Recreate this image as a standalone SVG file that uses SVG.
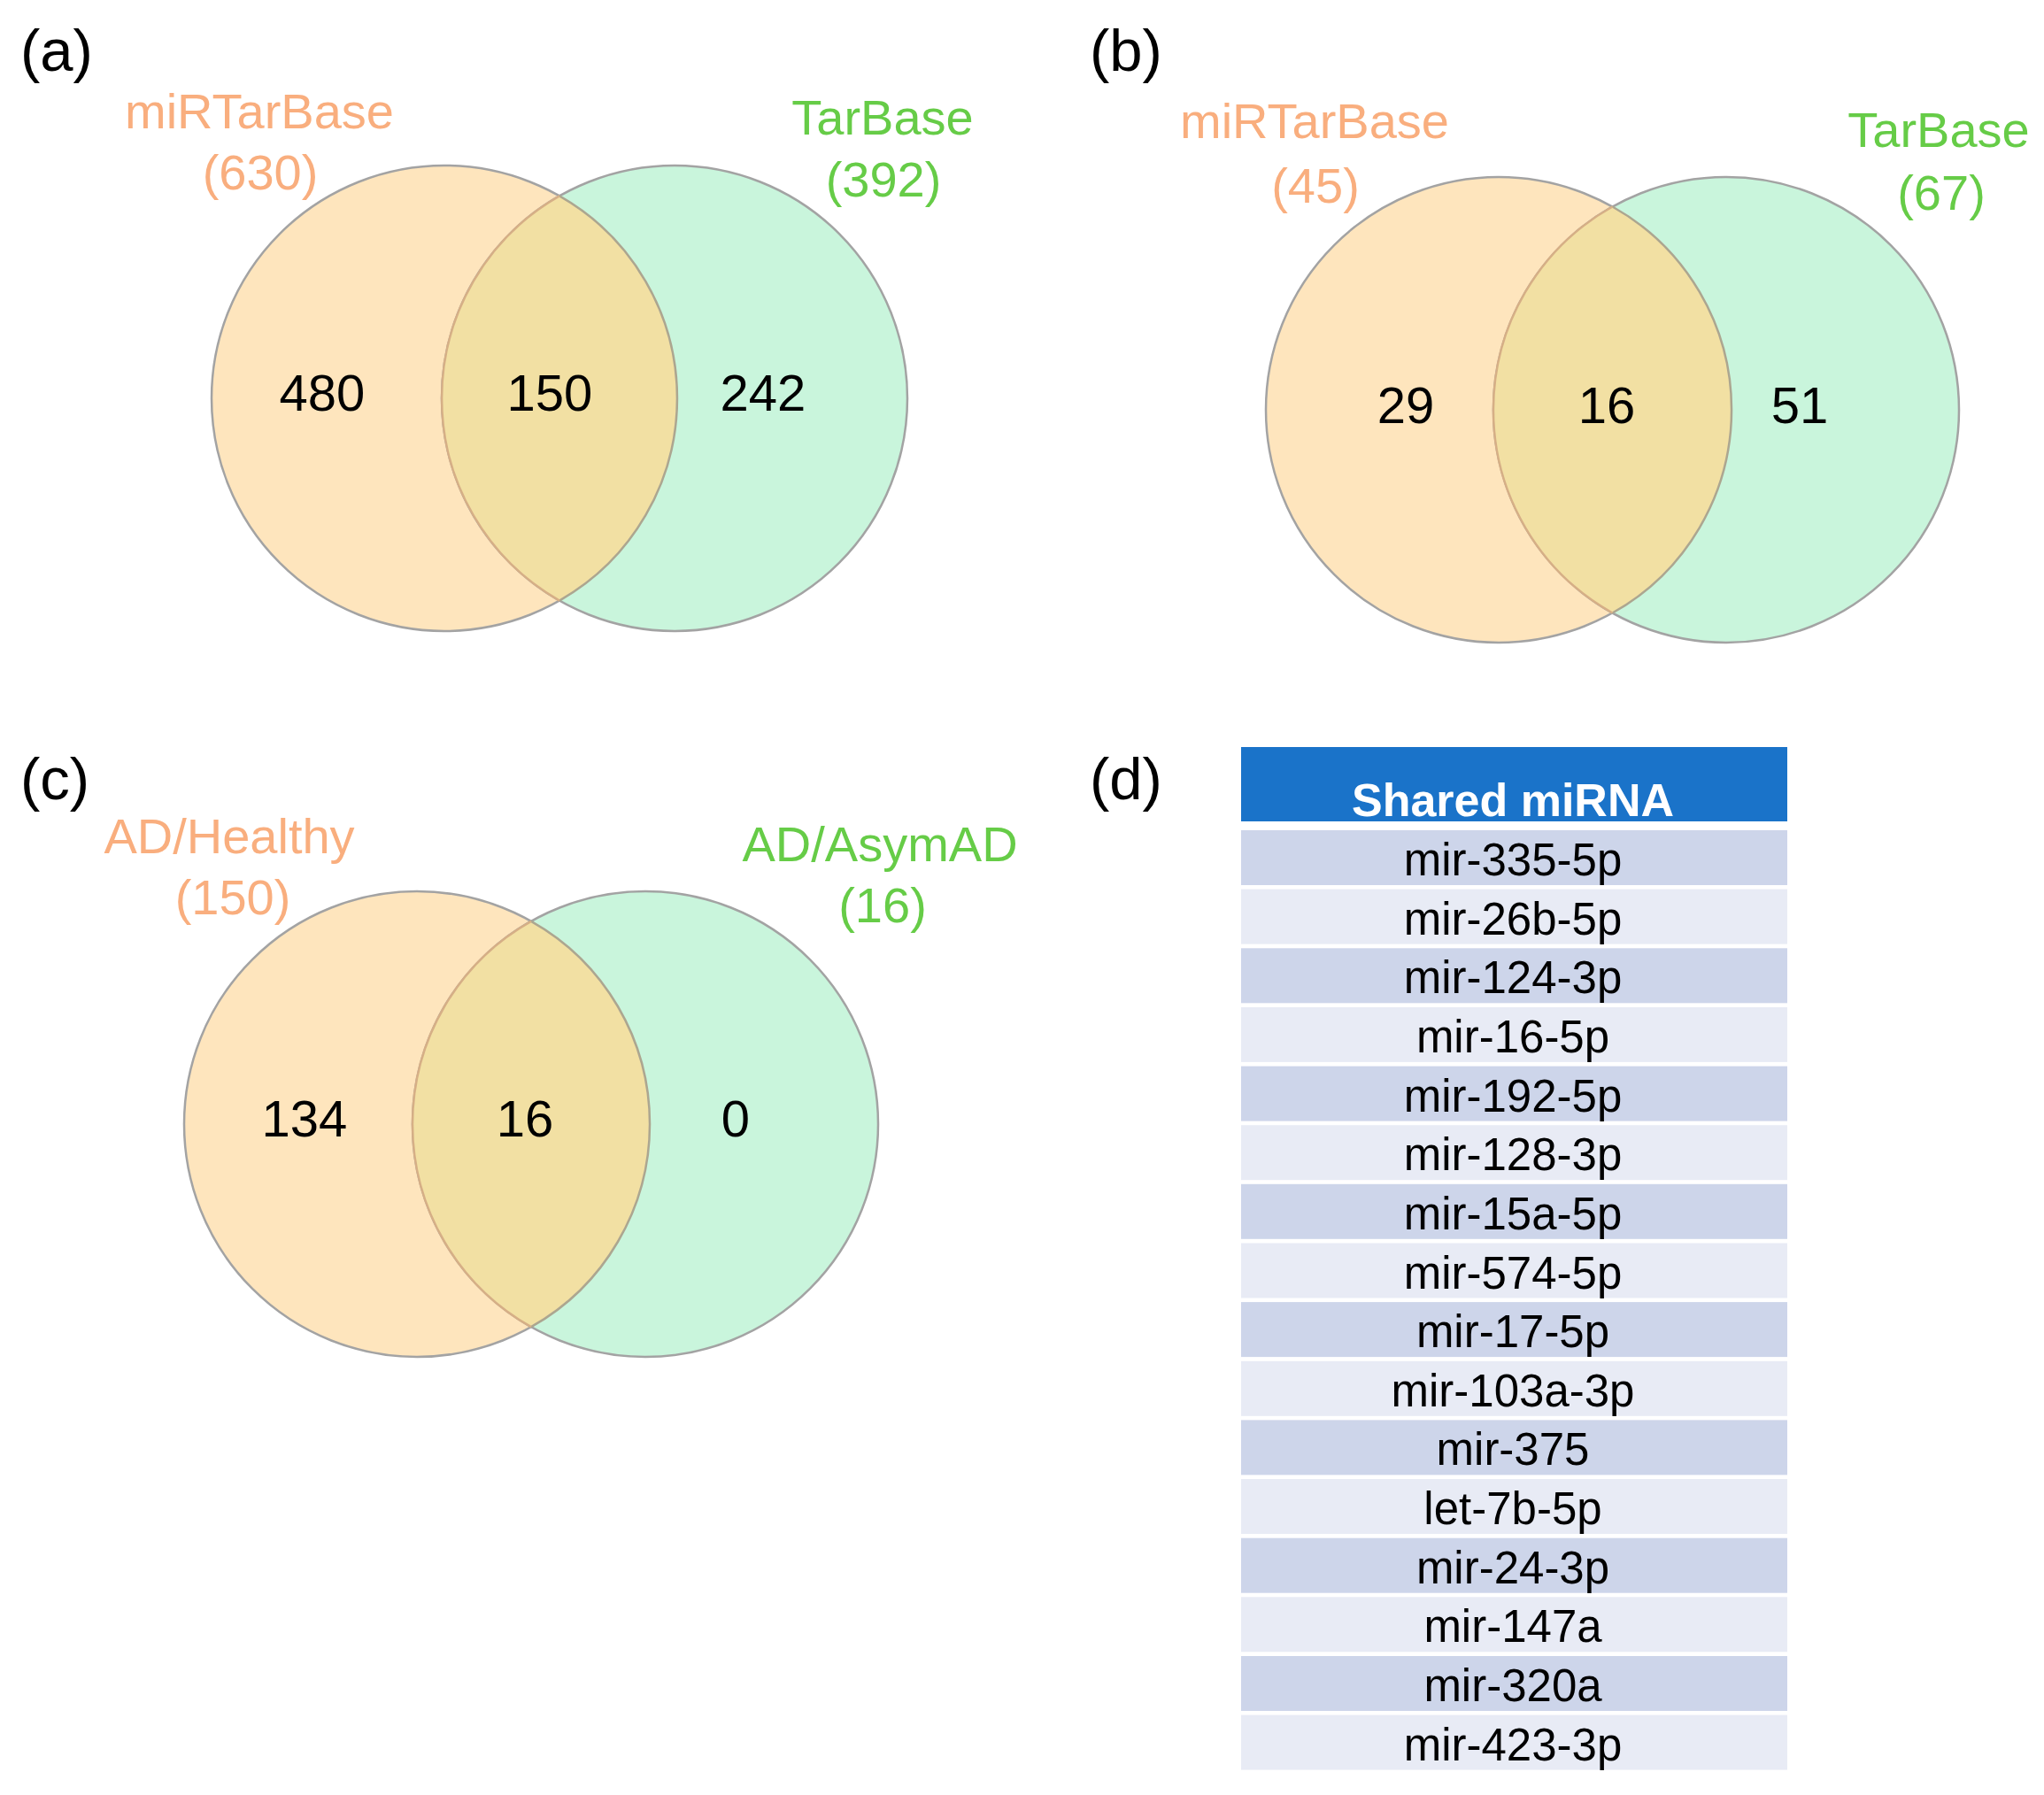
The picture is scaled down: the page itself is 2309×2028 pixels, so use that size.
<svg xmlns="http://www.w3.org/2000/svg" width="2309" height="2028" viewBox="0 0 2309 2028">
<style>
text{font-family:"Liberation Sans",Arial,Helvetica,sans-serif}
.panel{font-size:67px;fill:#000}
.lo{font-size:56px;fill:#F9AE7E;text-anchor:middle}
.lg{font-size:56px;fill:#66CC47;text-anchor:middle}
.num{font-size:58px;fill:#000;text-anchor:middle}
.ca{fill:#FEE5BD;stroke:#A3A3A3;stroke-width:2.5}
.cb{fill:#C9F5DC;stroke:#A3A3A3;stroke-width:2.5}
.lens{fill:#F2E0A3;stroke:none}
.arcA{fill:none;stroke:#ACA690;stroke-width:2.5}
.arcB{fill:none;stroke:#D6AF86;stroke-width:2.5}
.hdr{fill:#1A73C9}
.hdrt{font-size:52px;font-weight:bold;fill:#fff;text-anchor:middle}
.rd{fill:#CDD5EA}
.rl{fill:#E8EBF5}
.rt{font-size:51px;fill:#000;text-anchor:middle}
</style>
<rect width="2309" height="2028" fill="#fff"/>

<g id="panel-a">
<text class="panel" x="23" y="80">(a)</text>
<g id="a-set1">
<circle class="ca" cx="502" cy="450" r="263"/>
<text class="lo" x="293" y="145">miRTarBase</text>
<text class="lo" x="294" y="214">(630)</text>
</g>
<g id="a-set2">
<circle class="cb" cx="762" cy="450" r="263"/>
<text class="lg" x="997" y="152">TarBase</text>
<text class="lg" x="998" y="222">(392)</text>
</g>
<g id="a-overlap">
<path class="lens" d="M632 221.4 A263 263 0 0 1 632 678.6 A263 263 0 0 1 632 221.4 Z"/>
<path class="arcA" d="M632 221.4 A263 263 0 0 1 632 678.6"/>
<path class="arcB" d="M632 678.6 A263 263 0 0 1 632 221.4"/>
</g>
<text class="num" x="364" y="464">480</text>
<text class="num" x="621" y="464">150</text>
<text class="num" x="862" y="464">242</text>
</g>

<g id="panel-b">
<text class="panel" x="1231" y="80">(b)</text>
<g id="b-set1">
<circle class="ca" cx="1693" cy="463" r="263"/>
<text class="lo" x="1485" y="156">miRTarBase</text>
<text class="lo" x="1486" y="229">(45)</text>
</g>
<g id="b-set2">
<circle class="cb" cx="1950" cy="463" r="263"/>
<text class="lg" x="2190" y="166">TarBase</text>
<text class="lg" x="2193" y="237">(67)</text>
</g>
<g id="b-overlap">
<path class="lens" d="M1821.5 233.5 A263 263 0 0 1 1821.5 692.5 A263 263 0 0 1 1821.5 233.5 Z"/>
<path class="arcA" d="M1821.5 233.5 A263 263 0 0 1 1821.5 692.5"/>
<path class="arcB" d="M1821.5 692.5 A263 263 0 0 1 1821.5 233.5"/>
</g>
<text class="num" x="1588" y="478">29</text>
<text class="num" x="1815" y="478">16</text>
<text class="num" x="2033" y="478">51</text>
</g>

<g id="panel-c">
<text class="panel" x="23" y="903">(c)</text>
<g id="c-set1">
<circle class="ca" cx="471" cy="1270" r="263"/>
<text class="lo" x="259" y="964">AD/Healthy</text>
<text class="lo" x="263" y="1033">(150)</text>
</g>
<g id="c-set2">
<circle class="cb" cx="729" cy="1270" r="263"/>
<text class="lg" x="994" y="973">AD/AsymAD</text>
<text class="lg" x="997" y="1042">(16)</text>
</g>
<g id="c-overlap">
<path class="lens" d="M600 1040.8 A263 263 0 0 1 600 1499.2 A263 263 0 0 1 600 1040.8 Z"/>
<path class="arcA" d="M600 1040.8 A263 263 0 0 1 600 1499.2"/>
<path class="arcB" d="M600 1499.2 A263 263 0 0 1 600 1040.8"/>
</g>
<text class="num" x="344" y="1284">134</text>
<text class="num" x="593" y="1284">16</text>
<text class="num" x="831" y="1284">0</text>
</g>

<g id="panel-d">
<text class="panel" x="1231" y="903">(d)</text>
<g id="table-header">
<rect class="hdr" x="1402" y="844" width="617" height="84"/>
<text class="hdrt" x="1709" y="922">Shared miRNA</text>
</g>
<g id="table-rows">
<rect class="rd" x="1402" y="938" width="617" height="62"/><text class="rt" x="1709" y="989">mir-335-5p</text>
<rect class="rl" x="1402" y="1004.6" width="617" height="62"/><text class="rt" x="1709" y="1055.6">mir-26b-5p</text>
<rect class="rd" x="1402" y="1071.3" width="617" height="62"/><text class="rt" x="1709" y="1122.3">mir-124-3p</text>
<rect class="rl" x="1402" y="1137.9" width="617" height="62"/><text class="rt" x="1709" y="1188.9">mir-16-5p</text>
<rect class="rd" x="1402" y="1204.6" width="617" height="62"/><text class="rt" x="1709" y="1255.6">mir-192-5p</text>
<rect class="rl" x="1402" y="1271.2" width="617" height="62"/><text class="rt" x="1709" y="1322.2">mir-128-3p</text>
<rect class="rd" x="1402" y="1337.8" width="617" height="62"/><text class="rt" x="1709" y="1388.8">mir-15a-5p</text>
<rect class="rl" x="1402" y="1404.5" width="617" height="62"/><text class="rt" x="1709" y="1455.5">mir-574-5p</text>
<rect class="rd" x="1402" y="1471.1" width="617" height="62"/><text class="rt" x="1709" y="1522.1">mir-17-5p</text>
<rect class="rl" x="1402" y="1537.8" width="617" height="62"/><text class="rt" x="1709" y="1588.8">mir-103a-3p</text>
<rect class="rd" x="1402" y="1604.4" width="617" height="62"/><text class="rt" x="1709" y="1655.4">mir-375</text>
<rect class="rl" x="1402" y="1671" width="617" height="62"/><text class="rt" x="1709" y="1722">let-7b-5p</text>
<rect class="rd" x="1402" y="1737.7" width="617" height="62"/><text class="rt" x="1709" y="1788.7">mir-24-3p</text>
<rect class="rl" x="1402" y="1804.3" width="617" height="62"/><text class="rt" x="1709" y="1855.3">mir-147a</text>
<rect class="rd" x="1402" y="1871" width="617" height="62"/><text class="rt" x="1709" y="1922">mir-320a</text>
<rect class="rl" x="1402" y="1937.6" width="617" height="62"/><text class="rt" x="1709" y="1988.6">mir-423-3p</text>
</g>
</g>
<g id="connectors"/>
</svg>
